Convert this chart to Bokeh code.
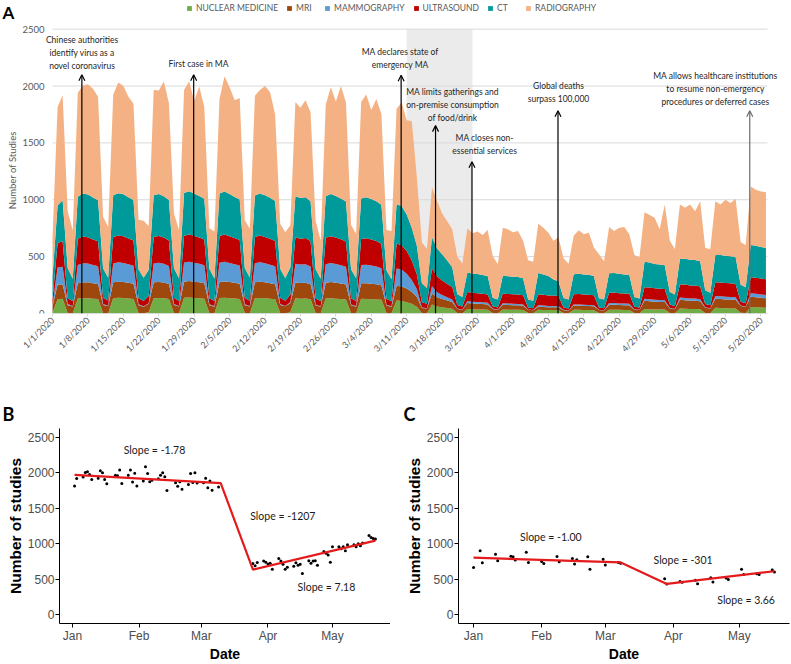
import math
import numpy as np
import pandas as pd
from bokeh.plotting import figure
from bokeh.models import (ColumnDataSource, FixedTicker, Legend, LegendItem, BoxAnnotation,
                          Arrow, OpenHead, Range1d)
from bokeh.layouts import column, row
from bokeh.embed import file_html
from bokeh.resources import INLINE
from bokeh.core.properties import value

# ---------------- data (daily imaging study counts, 1 Jan - 21 May 2020) ----------------
DATES = pd.date_range("2020-01-01", "2020-05-21", freq="D")

NUCLEAR_MEDICINE = [
    8, 125, 130, 5, 3,
    132, 135, 134, 130, 128, 4, 3,
    135, 138, 136, 132, 128, 5, 3,
    10, 134, 136, 133, 127, 4, 3,
    138, 140, 136, 135, 130, 5, 3,
    136, 138, 134, 132, 128, 4, 3,
    135, 137, 133, 130, 126, 5, 3,
    12, 133, 130, 131, 125, 4, 3,
    132, 135, 130, 128, 124, 5, 3,
    130, 128, 125, 124, 120, 4, 3,
    115, 110, 100, 85, 60, 4, 3,
    80, 62, 55, 48, 42, 5, 3,
    40, 38, 36, 35, 33, 5, 3,
    35, 34, 33, 32, 30, 4, 3,
    32, 31, 30, 30, 29, 4, 3,
    32, 33, 31, 30, 29, 4, 3,
    33, 34, 32, 31, 30, 4, 3,
    40, 38, 36, 35, 35, 5, 3,
    45, 42, 40, 40, 38, 5, 3,
    50, 48, 46, 45, 44, 6, 4,
    58, 55, 52, 50,
]
MRI = [
    55, 130, 125, 68, 58,
    135, 138, 140, 136, 132, 70, 60,
    140, 142, 141, 138, 134, 68, 57,
    75, 140, 142, 139, 133, 70, 58,
    142, 145, 143, 140, 136, 68, 57,
    141, 144, 142, 138, 134, 69, 58,
    140, 143, 141, 137, 132, 70, 60,
    78, 140, 138, 139, 133, 68, 56,
    138, 141, 140, 136, 132, 67, 57,
    136, 138, 137, 134, 128, 66, 55,
    130, 128, 120, 105, 85, 45, 40,
    95, 80, 72, 66, 60, 35, 30,
    52, 50, 50, 48, 47, 35, 30,
    42, 41, 40, 40, 38, 28, 25,
    28, 27, 26, 25, 25, 25, 22,
    38, 37, 36, 35, 34, 26, 23,
    45, 44, 43, 42, 42, 30, 27,
    72, 70, 68, 67, 66, 40, 35,
    75, 74, 72, 72, 70, 45, 40,
    80, 79, 78, 78, 76, 60, 55,
    90, 88, 86, 85,
]
MAMMOGRAPHY = [
    5, 150, 155, 10, 5,
    160, 168, 165, 160, 155, 9, 5,
    165, 170, 168, 162, 158, 8, 4,
    6, 166, 168, 165, 158, 9, 5,
    168, 170, 168, 162, 158, 8, 5,
    170, 172, 168, 163, 160, 9, 5,
    166, 170, 167, 162, 158, 8, 4,
    10, 165, 162, 163, 156, 8, 5,
    164, 168, 165, 160, 155, 8, 5,
    160, 163, 160, 156, 150, 8, 5,
    150, 148, 130, 105, 70, 6, 4,
    65, 45, 35, 28, 22, 4, 3,
    18, 16, 15, 15, 14, 3, 2,
    14, 13, 13, 12, 12, 3, 2,
    12, 12, 11, 11, 10, 3, 2,
    10, 10, 10, 10, 9, 3, 2,
    15, 15, 14, 14, 13, 3, 2,
    18, 18, 17, 17, 16, 4, 3,
    20, 20, 19, 19, 18, 4, 3,
    24, 24, 23, 23, 22, 5, 3,
    30, 30, 29, 28,
]
ULTRASOUND = [
    55, 215, 225, 52, 45,
    230, 235, 232, 225, 220, 55, 46,
    232, 236, 234, 228, 222, 54, 45,
    62, 234, 236, 232, 224, 55, 45,
    236, 240, 236, 232, 226, 54, 44,
    235, 240, 236, 230, 225, 55, 46,
    232, 236, 232, 228, 222, 55, 45,
    65, 232, 228, 230, 222, 54, 44,
    232, 236, 233, 228, 222, 55, 46,
    228, 232, 228, 224, 216, 52, 44,
    220, 215, 200, 170, 130, 45, 38,
    155, 140, 128, 118, 108, 30, 25,
    80, 78, 77, 76, 74, 20, 18,
    85, 84, 83, 82, 80, 18, 16,
    95, 94, 92, 92, 90, 20, 18,
    90, 92, 91, 90, 88, 20, 18,
    90, 91, 90, 89, 88, 22, 20,
    100, 102, 100, 99, 98, 30, 25,
    115, 118, 116, 115, 112, 30, 26,
    120, 122, 121, 120, 118, 32, 28,
    140, 142, 140, 138,
]
CT = [
    200, 330, 360, 265, 195,
    370, 380, 375, 370, 360, 260, 200,
    368, 372, 370, 362, 355, 255, 205,
    230, 365, 368, 362, 355, 262, 200,
    375, 380, 372, 365, 360, 258, 198,
    372, 378, 370, 362, 355, 262, 205,
    365, 370, 366, 360, 352, 255, 200,
    240, 362, 358, 360, 350, 258, 198,
    365, 370, 366, 360, 352, 255, 200,
    358, 362, 356, 350, 342, 250, 195,
    345, 345, 320, 290, 250, 165, 140,
    275, 245, 232, 205, 175, 95, 85,
    170, 168, 170, 165, 162, 75, 70,
    158, 156, 155, 154, 150, 70, 66,
    190, 180, 170, 140, 130, 85, 78,
    175, 178, 176, 175, 170, 82, 76,
    170, 172, 170, 168, 166, 85, 80,
    225, 220, 215, 212, 210, 110, 100,
    225, 228, 226, 225, 222, 120, 110,
    240, 242, 240, 238, 236, 150, 140,
    285, 280, 278, 275,
]
RADIOGRAPHY = [
    342, 865, 925, 500, 424,
    913, 949, 969, 954, 910, 452, 446,
    885, 972, 951, 883, 848, 435, 501,
    387, 926, 910, 1009, 853, 480, 424,
    906, 965, 815, 961, 805, 357, 413,
    831, 1013, 940, 850, 893, 421, 428,
    877, 909, 961, 928, 760, 397, 403,
    370, 828, 794, 852, 784, 423, 334,
    804, 940, 831, 988, 870, 390, 389,
    848, 902, 784, 897, 799, 355, 423,
    840, 909, 830, 935, 605, 360, 345,
    440, 418, 358, 345, 333, 331, 294,
    390, 355, 372, 351, 405, 367, 310,
    421, 412, 391, 405, 330, 345, 343,
    433, 411, 382, 342, 384, 348, 314,
    338, 382, 353, 371, 251, 385, 338,
    408, 370, 406, 417, 358, 371, 363,
    435, 417, 406, 310, 533, 451, 401,
    478, 447, 485, 429, 526, 371, 385,
    472, 443, 493, 468, 514, 375, 370,
    514, 493, 488, 491,
]

MODALITY_NAMES = ["NUCLEAR MEDICINE", "MRI", "MAMMOGRAPHY", "ULTRASOUND", "CT", "RADIOGRAPHY"]
MODALITY_COLORS = ["#70ad47", "#9e480e", "#5b9bd5", "#c00000", "#009a9a", "#f4b183"]

A_TICK_DAYS = [0, 7, 14, 21, 28, 35, 42, 49, 56, 63, 70, 77, 84, 91, 98, 105, 112, 119, 126, 133, 140]
A_TICK_LABELS = ["1/1/2020", "1/8/2020", "1/15/2020", "1/22/2020", "1/29/2020", "2/5/2020",
                 "2/12/2020", "2/19/2020", "2/26/2020", "3/4/2020", "3/11/2020", "3/18/2020",
                 "3/25/2020", "4/1/2020", "4/8/2020", "4/15/2020", "4/22/2020", "4/29/2020",
                 "5/6/2020", "5/13/2020", "5/20/2020"]
A_Y_TICKS = [0, 500, 1000, 1500, 2000, 2500]
A_Y_LABELS = ["0", "500", "1000", "1500", "2000", "2500"]

SHADE_START_DAY = 70   # 3/11
SHADE_END_DAY = 83     # 3/24

EVENT_TEXTS = [
    "Chinese authorities\nidentify virus as a\nnovel coronavirus",
    "First case in MA",
    "MA declares state of\nemergency MA",
    "MA limits gatherings and\non-premise consumption\nof food/drink",
    "MA closes non-\nessential services",
    "Global deaths\nsurpass 100,000",
    "MA allows healthcare institutions\nto resume non-emergency\nprocedures or deferred cases",
]
EVENT_DAYS = [5.8, 27.9, 68.9, 75.7, 82.9, 99.9, 137.8]
EVENT_ARROW_TIPS = [2100, 2100, 2095, 1652, 1334, 1782, 1782]
EVENT_TEXT_X = [5.83, 28.85, 68.7, 79.05, 85.4, 100.0, 131.0]
EVENT_TEXT_Y = [2292, 2196, 2240, 1834, 1489, 1940, 1970]
EVENT_COLORS = ["#000000"] * 6 + ["#6b6b6b"]

HOLIDAYS = ["2020-01-01", "2020-01-20", "2020-02-17"]
EXCLUDED_START = "2020-03-10"
EXCLUDED_END = "2020-03-24"

MONTH_TICK_DAYS = [0, 31, 60, 91, 121]
MONTH_LABELS = ["Jan", "Feb", "Mar", "Apr", "May"]
TREND_Y_TICKS = [0, 500, 1000, 1500, 2000, 2500]

B_FIT_DAYS = [1, 69, 84, 141]
B_FIT_VALUES = [1972, 1855, 634, 1043]
B_SLOPE_TEXTS = ["Slope = -1.78", "Slope = -1207", "Slope = 7.18"]
B_SLOPE_X = [38.2, 97.9, 118.2]
B_SLOPE_Y = [2325, 1396, 386]

C_FIT_DAYS = [0, 67, 88, 137]
C_FIT_VALUES = [803, 736, 433, 612]
C_SLOPE_TEXTS = ["Slope = -1.00", "Slope = -301", "Slope = 3.66"]
C_SLOPE_X = [35.2, 95.4, 124.1]
C_SLOPE_Y = [1088, 773, 210]

# ---------------- panel A ----------------
days = np.arange(len(DATES))
keys = ["nm", "mri", "mammo", "us", "ct", "xr"]
src = ColumnDataSource(dict(day=days, nm=NUCLEAR_MEDICINE, mri=MRI, mammo=MAMMOGRAPHY,
                            us=ULTRASOUND, ct=CT, xr=RADIOGRAPHY))

GRAY_TXT = "#595959"
FONT_A = "Lato"
A_X0, A_X1 = 0, 141.3          # extent of the plotted time axis (days)

# frame covers the whole figure width so that the margin texts are not clipped
pA = figure(width=791, height=360, output_backend="svg", toolbar_location=None,
            x_range=Range1d(-10.28, 146.05), y_range=Range1d(0, 2752),
            min_border_left=0, min_border_right=0, min_border_top=0, min_border_bottom=43)
pA.outline_line_color = None
pA.grid.grid_line_color = None
pA.yaxis.visible = False

pA.add_layout(BoxAnnotation(left=SHADE_START_DAY, right=SHADE_END_DAY, bottom=0, top=2500,
                            fill_color="#ebebeb", fill_alpha=1.0, line_color=None, level="underlay"))

# horizontal gridlines, limited to the time axis extent
pA.segment(x0=[A_X0] * len(A_Y_TICKS), x1=[A_X1] * len(A_Y_TICKS), y0=A_Y_TICKS, y1=A_Y_TICKS,
           line_color="#d9d9d9", line_width=1)

renderers = pA.varea_stack(stackers=keys, x="day", color=MODALITY_COLORS, source=src)

# y tick labels and title
pA.text(x=[-1.58] * len(A_Y_TICKS), y=A_Y_TICKS, text=A_Y_LABELS, text_align="right",
        text_baseline="middle", text_font=value(FONT_A), text_font_size="9.5px",
        text_color=GRAY_TXT)
pA.text(x=[-7.9], y=[1259], text=["Number of Studies"], angle=math.pi / 2, text_align="center",
        text_baseline="middle", text_font=value(FONT_A), text_font_size="9.5px",
        text_color=GRAY_TXT)
pA.text(x=[-9.9], y=[2648], text=["A"], text_align="left", text_baseline="middle",
        text_font=value(FONT_A), text_font_style="bold", text_font_size="17px", text_color="black")

pA.xaxis.bounds = (A_X0, A_X1)
pA.xaxis.ticker = FixedTicker(ticks=A_TICK_DAYS)
pA.xaxis.major_label_overrides = {d: l for d, l in zip(A_TICK_DAYS, A_TICK_LABELS)}
pA.xaxis.major_label_orientation = math.pi / 4
pA.xaxis.axis_line_color = "#d9d9d9"
pA.xaxis.major_tick_line_color = "#d9d9d9"
pA.xaxis.major_tick_out = 3
pA.xaxis.major_tick_in = 0
pA.xaxis.minor_tick_line_color = None
pA.xaxis.major_label_standoff = 2
pA.xaxis.major_label_text_font = FONT_A
pA.xaxis.major_label_text_font_size = "9px"
pA.xaxis.major_label_text_color = GRAY_TXT

for xd, tip, col in zip(EVENT_DAYS, EVENT_ARROW_TIPS, EVENT_COLORS):
    pA.add_layout(Arrow(end=OpenHead(size=6, line_color=col, line_width=1.2),
                        x_start=xd, y_start=0, x_end=xd, y_end=tip,
                        line_color=col, line_width=1.2))

pA.text(x=EVENT_TEXT_X, y=EVENT_TEXT_Y, text=EVENT_TEXTS, text_align="center",
        text_baseline="middle", text_font=value(FONT_A), text_font_size="8.5px",
        text_color="#262626", text_line_height=1.3)

items = [LegendItem(label=n, renderers=[r]) for n, r in zip(MODALITY_NAMES, renderers)]
legend = Legend(items=items, orientation="horizontal", location=(186, 300),
                glyph_width=6, glyph_height=6, label_standoff=4, spacing=8,
                padding=0, margin=0, label_height=10,
                label_text_font=FONT_A, label_text_font_size="8.5px", label_text_color=GRAY_TXT,
                background_fill_alpha=0, border_line_alpha=0)
pA.add_layout(legend)

# ---------------- panels B and C ----------------
total = (np.array(NUCLEAR_MEDICINE) + np.array(MRI) + np.array(MAMMOGRAPHY)
         + np.array(ULTRASOUND) + np.array(CT) + np.array(RADIOGRAPHY))
is_weekend = np.asarray(DATES.dayofweek >= 5)
is_holiday = np.asarray(DATES.isin(pd.to_datetime(HOLIDAYS)))
excluded = np.asarray((DATES >= EXCLUDED_START) & (DATES <= EXCLUDED_END))
weekday_mask = (~is_weekend) & (~is_holiday) & (~excluded)
weekend_mask = (is_weekend | is_holiday) & (~excluded)


def trend_panel(width, border_left, border_right, border_top, x_range, mask, fit_d, fit_v,
                slope_texts, slope_x, slope_y, letter, letter_offset, letter_standoff):
    p = figure(width=width, height=304, output_backend="svg", toolbar_location=None,
               x_range=Range1d(*x_range), y_range=Range1d(-125, 2625), title=letter,
               min_border_left=border_left, min_border_right=border_right,
               min_border_top=border_top, min_border_bottom=36)
    p.title.align = "left"
    p.title.offset = letter_offset
    p.title.standoff = letter_standoff
    p.title.text_font = "Lato"
    p.title.text_font_size = "18px"
    p.title.text_font_style = "bold"
    p.title.text_color = "black"
    p.outline_line_color = None
    p.grid.grid_line_color = None
    p.scatter(days[mask], total[mask], size=3, fill_color="black", line_color=None)
    p.line(fit_d, fit_v, line_color="#e41a1c", line_width=2.2)
    p.text(x=slope_x, y=slope_y, text=slope_texts, text_align="center", text_baseline="middle",
           text_font=value("Lato"), text_font_size="10.5px", text_color="#1a1a1a")
    for ax in (p.xaxis, p.yaxis):
        ax.axis_line_color = "black"
        ax.axis_line_width = 1
        ax.major_tick_line_color = "black"
        ax.major_tick_out = 4
        ax.major_tick_in = 0
        ax.minor_tick_line_color = None
        ax.major_label_standoff = 1
        ax.major_label_text_font = "Liberation Sans"
        ax.major_label_text_font_size = "12px"
        ax.major_label_text_color = "#4d4d4d"
        ax.axis_label_text_font = "Liberation Sans"
        ax.axis_label_text_font_style = "bold"
        ax.axis_label_text_color = "black"
        ax.axis_label_standoff = 1
    p.xaxis.axis_label = "Date"
    p.xaxis.axis_label_text_font_size = "14px"
    p.xaxis.axis_label_standoff = 0
    p.yaxis.axis_label = "Number of studies"
    p.yaxis.axis_label_text_font_size = "15.5px"
    p.xaxis.ticker = FixedTicker(ticks=MONTH_TICK_DAYS)
    p.xaxis.major_label_overrides = {d: l for d, l in zip(MONTH_TICK_DAYS, MONTH_LABELS)}
    p.yaxis.ticker = FixedTicker(ticks=TREND_Y_TICKS)
    return p


pB = trend_panel(390, 59, 0, 68, (-6, 148), weekday_mask, B_FIT_DAYS, B_FIT_VALUES,
                 B_SLOPE_TEXTS, B_SLOPE_X, B_SLOPE_Y, "B", -57, 8)
pC = trend_panel(401, 68, 2, 64, (-6.85, 143.85), weekend_mask, C_FIT_DAYS, C_FIT_VALUES,
                 C_SLOPE_TEXTS, C_SLOPE_X, C_SLOPE_Y, "C", -55, 7)

layout = column(pA, row(pB, pC))
open("out.html", "w").write(file_html(layout, INLINE))
